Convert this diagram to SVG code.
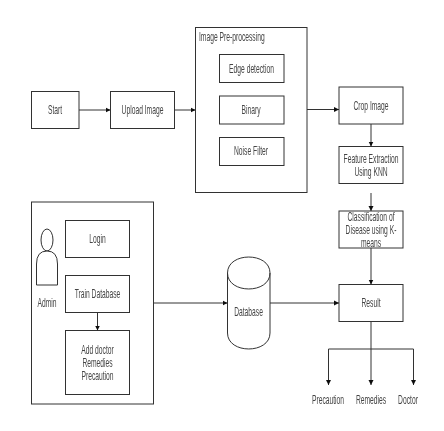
<svg xmlns="http://www.w3.org/2000/svg" width="444" height="431" viewBox="0 0 444 431">
<style>
rect,.s{fill:#fff;stroke:#333;stroke-width:1}
.c path{fill:none;stroke:#333;stroke-width:1;marker-end:url(#a)}
.c path.n{marker-end:none}
text{font-family:"Liberation Sans",Arial,sans-serif;font-size:12px;fill:#444;text-anchor:middle}
text.l{text-anchor:start}
</style>
<defs>
<marker id="a" markerUnits="userSpaceOnUse" markerWidth="6" markerHeight="6" refX="5" refY="3" orient="auto"><path d="M0 0.500L5 3L0 5.500Z" fill="#111"/></marker>
<filter id="b" x="0" y="0" width="1" height="1"><feGaussianBlur stdDeviation="0.5"/></filter>
</defs>
<rect width="444" height="431" style="fill:#fff;stroke:none"/>
<g filter="url(#b)">
<g id="start"><rect x="31.500" y="91.500" width="47.500" height="37"/><text transform="translate(55 114) scale(.56 1)">Start</text></g>
<g id="upload"><rect x="110.500" y="91.500" width="64" height="37"/><text transform="translate(142.500 114) scale(.56 1)">Upload Image</text></g>
<g id="preprocessing"><rect x="195.500" y="27.500" width="111.500" height="165"/><text class="l" transform="translate(199 41) scale(.56 1)">Image Pre-processing</text></g>
<g id="edge"><rect x="219.500" y="54.500" width="64.500" height="28"/><text transform="translate(251.500 73) scale(.56 1)">Edge detection</text></g>
<g id="binary"><rect x="219.500" y="96" width="64.500" height="28"/><text transform="translate(251 114) scale(.56 1)">Binary</text></g>
<g id="noise"><rect x="219.500" y="137.500" width="64.500" height="28"/><text transform="translate(251 155) scale(.56 1)">Noise Filter</text></g>
<g id="crop"><rect x="339" y="87" width="64" height="37"/><text transform="translate(371 110) scale(.56 1)">Crop Image</text></g>
<g id="feature"><rect x="339" y="146.500" width="64" height="37"/><text transform="translate(371 163) scale(.56 1)">Feature Extraction</text><text transform="translate(371 176) scale(.56 1)">Using KNN</text></g>
<g id="classification"><rect x="339" y="211" width="64" height="37"/><text transform="translate(371 221) scale(.56 1)">Classification of</text><text transform="translate(371 234) scale(.56 1)">Disease using K-</text><text transform="translate(371 247) scale(.56 1)">means</text></g>
<g id="result"><rect x="339" y="284.500" width="64" height="37"/><text transform="translate(371 307) scale(.56 1)">Result</text></g>
<g id="admin"><rect x="31.500" y="202" width="122" height="202"/>
<ellipse class="s" cx="47" cy="240" rx="6" ry="11"/><path class="s" d="M36.500 285V264Q36.500 251 47 251Q57.500 251 57.500 264V285Z"/><text transform="translate(47 307) scale(.56 1)">Admin</text></g>
<g id="login"><rect x="65.500" y="220.500" width="64" height="37"/><text transform="translate(97.500 243) scale(.56 1)">Login</text></g>
<g id="train"><rect x="65.500" y="275.500" width="64" height="37"/><text transform="translate(97.500 298) scale(.56 1)">Train Database</text></g>
<g id="add"><rect x="65.500" y="330.500" width="64" height="64"/><text transform="translate(97.500 354) scale(.56 1)">Add doctor</text><text transform="translate(97.500 367) scale(.56 1)">Remedies</text><text transform="translate(97.500 380) scale(.56 1)">Precaution</text></g>
<g id="database"><path class="s" d="M227.500 273V333C227.500 354.300 270 354.300 270 333V273C270 251.700 227.500 251.700 227.500 273Z"/><path class="s" style="fill:none" d="M227.500 273C227.500 294.300 270 294.300 270 273"/><text transform="translate(248.500 316) scale(.56 1)">Database</text></g>
<g id="precaution"><text transform="translate(328 404) scale(.56 1)">Precaution</text></g>
<g id="remedies"><text transform="translate(371 404) scale(.56 1)">Remedies</text></g>
<g id="doctor"><text transform="translate(408 404) scale(.56 1)">Doctor</text></g>
<g class="c" id="connectors">
<path d="M79 110H110.500"/><path d="M174.500 110H195.500"/><path d="M307 109.500H339"/>
<path d="M371 124V146.500"/><path d="M371 193V211"/><path d="M371 248V284.500"/>
<path d="M97.500 312.500V330.500"/><path d="M153.500 303H227.500"/><path d="M270 303H339"/>
<path class="n" d="M371 321.500V349"/><path class="n" d="M328.500 349H413.500"/>
<path d="M328.500 349V385"/><path d="M371 349V385"/><path d="M413.500 349V385"/>
</g>
</g>
</svg>
